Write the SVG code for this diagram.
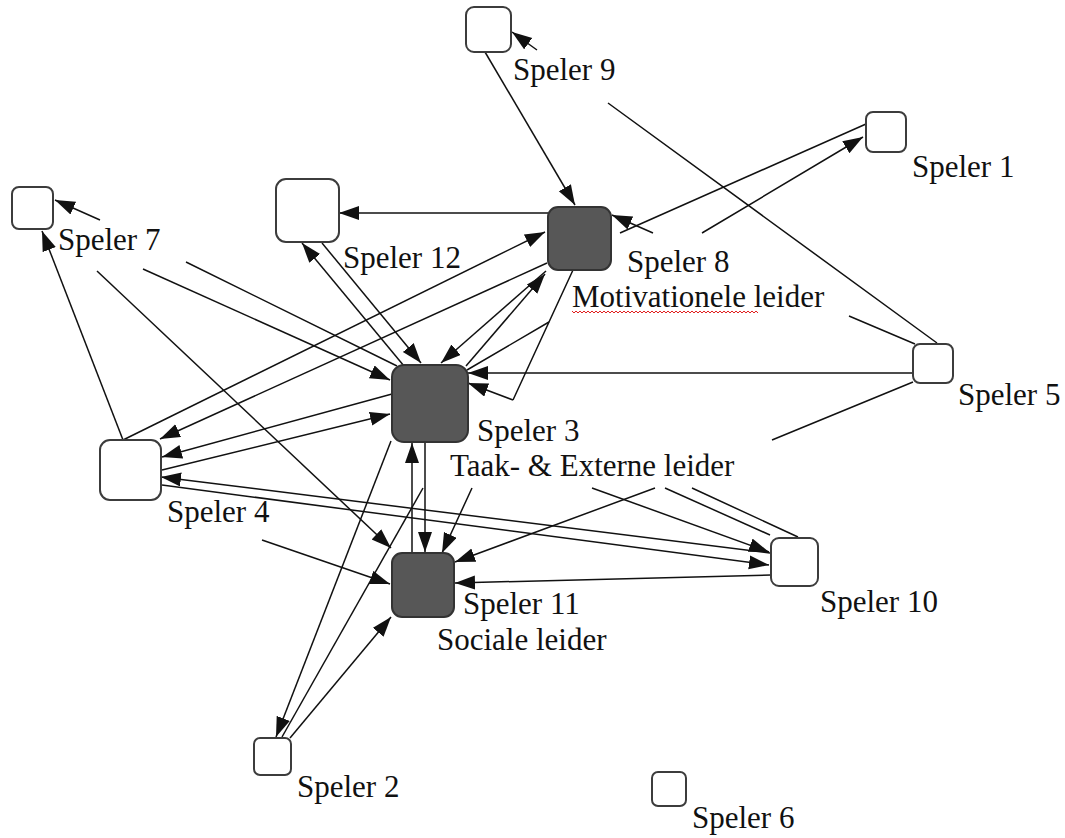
<svg xmlns="http://www.w3.org/2000/svg" width="1065" height="838" viewBox="0 0 1065 838">
  <style>
    .node { fill: #ffffff; stroke: #3c3c3c; stroke-width: 2; }
    .lead { fill: #575757; stroke: #333333; stroke-width: 2; }
    .lbl { font-family: "Liberation Serif", "Times New Roman", serif; font-size: 31px; fill: #111111; }
    .edge { fill: none; stroke: #111111; stroke-width: 1.5; }
    .arr { marker-end: url(#ah); }
    .spell { fill: none; stroke: #e02020; stroke-width: 1; }
  </style>
  <defs>
    <marker id="ah" markerUnits="userSpaceOnUse" markerWidth="21" markerHeight="15" refX="20" refY="7" orient="auto">
      <path d="M0,0 L20,7 L0,14 z" fill="#111111"/>
    </marker>
  </defs>
  <rect width="1065" height="838" fill="#ffffff"/>

  <!-- connectors (gaps are where label boxes cover the line) -->
  <g id="connectors">
    <path class="edge arr" d="M485,52 L575,205"/>
    <path class="edge arr" d="M937,343 L608,103 M537,50 L512,32"/>
    <path class="edge" d="M866,124 L620,233"/>
    <path class="edge arr" d="M467,370 L549,322 M702,233 L863,137"/>
    <path class="edge arr" d="M915,344 L849,316 M653,233 L612,215"/>
    <path class="edge arr" d="M548,213 L339,213"/>
    <path class="edge arr" d="M404,366 L302,243"/>
    <path class="edge arr" d="M322,243 L421,363"/>
    <path class="edge arr" d="M397,366 L186,262 M100,220 L55,200"/>
    <path class="edge arr" d="M143,269 L390,380"/>
    <path class="edge arr" d="M97,271 L391,548"/>
    <path class="edge arr" d="M123,440 L42,231"/>
    <path class="edge arr" d="M123,440 L545,232"/>
    <path class="edge arr" d="M547,263 L160,439"/>
    <path class="edge arr" d="M392,394 L162,457"/>
    <path class="edge arr" d="M162,470 L390,414"/>
    <path class="edge arr" d="M770,553 L161,477"/>
    <path class="edge arr" d="M162,485 L769,565"/>
    <path class="edge arr" d="M262,540 L390,584"/>
    <path class="edge arr" d="M546,271 L441,363"/>
    <path class="edge arr" d="M466,366 L545,274"/>
    <path class="edge arr" d="M573,270 L513,400 M472,488 L442,553"/>
    <path class="edge arr" d="M913,373 L468,373"/>
    <path class="edge arr" d="M798,537 L692,488 M513,400 L468,383"/>
    <path class="edge" d="M665,488 L770,535"/>
    <path class="edge arr" d="M592,488 L769,552"/>
    <path class="edge arr" d="M913,382 L772,440 M655,488 L455,562"/>
    <path class="edge arr" d="M771,575 L455,583"/>
    <path class="edge arr" d="M425,442 L425,552"/>
    <path class="edge arr" d="M412,553 L412,443"/>
    <path class="edge arr" d="M391,441 L276,737"/>
    <path class="edge" d="M423,488 L282,737"/>
    <path class="edge arr" d="M290,738 L391,617"/>
  </g>

  <g id="speler9">
    <rect class="node" x="466" y="7" width="45" height="45" rx="8"/>
    <text class="lbl" x="513" y="80">Speler 9</text>
  </g>
  <g id="speler1">
    <rect class="node" x="866" y="112" width="40" height="40" rx="7"/>
    <text class="lbl" x="912" y="177">Speler 1</text>
  </g>
  <g id="speler7">
    <rect class="node" x="12" y="187" width="41" height="42" rx="7"/>
    <text class="lbl" x="58" y="250">Speler 7</text>
  </g>
  <g id="speler12">
    <rect class="node" x="276" y="179" width="63" height="63" rx="10"/>
    <text class="lbl" x="343" y="268">Speler 12</text>
  </g>
  <g id="speler8">
    <rect class="lead" x="548" y="207" width="63" height="63" rx="10"/>
    <text class="lbl" x="627" y="272">Speler 8</text>
    <text class="lbl" x="572" y="307">Motivationele leider</text>
    <path class="spell" d="M572,311 l2,2 l2,-2 l2,2 l2,-2 l2,2 l2,-2 l2,2 l2,-2 l2,2 l2,-2 l2,2 l2,-2 l2,2 l2,-2 l2,2 l2,-2 l2,2 l2,-2 l2,2 l2,-2 l2,2 l2,-2 l2,2 l2,-2 l2,2 l2,-2 l2,2 l2,-2 l2,2 l2,-2 l2,2 l2,-2 l2,2 l2,-2 l2,2 l2,-2 l2,2 l2,-2 l2,2 l2,-2 l2,2 l2,-2 l2,2 l2,-2 l2,2 l2,-2 l2,2 l2,-2 l2,2 l2,-2 l2,2 l2,-2 l2,2 l2,-2 l2,2 l2,-2 l2,2 l2,-2 l2,2 l2,-2 l2,2 l2,-2 l2,2 l2,-2 l2,2 l2,-2 l2,2 l2,-2 l2,2 l2,-2 l2,2 l2,-2 l2,2 l2,-2 l2,2 l2,-2 l2,2 l2,-2 l2,2 l2,-2 l2,2 l2,-2 l2,2 l2,-2 l2,2 l2,-2 l2,2 l2,-2 l2,2 l2,-2 l2,2 l2,-2 l2,2"/>
  </g>
  <g id="speler5">
    <rect class="node" x="913" y="344" width="40" height="39" rx="7"/>
    <text class="lbl" x="958" y="405">Speler 5</text>
  </g>
  <g id="speler4">
    <rect class="node" x="100" y="440" width="61" height="60" rx="10"/>
    <text class="lbl" x="167" y="522">Speler 4</text>
  </g>
  <g id="speler3">
    <rect class="lead" x="392" y="365" width="76" height="77" rx="12"/>
    <text class="lbl" x="477" y="441">Speler 3</text>
    <text class="lbl" x="450" y="476">Taak- &amp; Externe leider</text>
  </g>
  <g id="speler11">
    <rect class="lead" x="392" y="553" width="62" height="64" rx="10"/>
    <text class="lbl" x="463" y="614">Speler 11</text>
    <text class="lbl" x="437" y="650">Sociale leider</text>
  </g>
  <g id="speler10">
    <rect class="node" x="771" y="538" width="47" height="48" rx="8"/>
    <text class="lbl" x="820" y="612">Speler 10</text>
  </g>
  <g id="speler2">
    <rect class="node" x="254" y="738" width="37" height="37" rx="6"/>
    <text class="lbl" x="297" y="797">Speler 2</text>
  </g>
  <g id="speler6">
    <rect class="node" x="652" y="772" width="34" height="34" rx="6"/>
    <text class="lbl" x="692" y="828">Speler 6</text>
  </g>
</svg>
